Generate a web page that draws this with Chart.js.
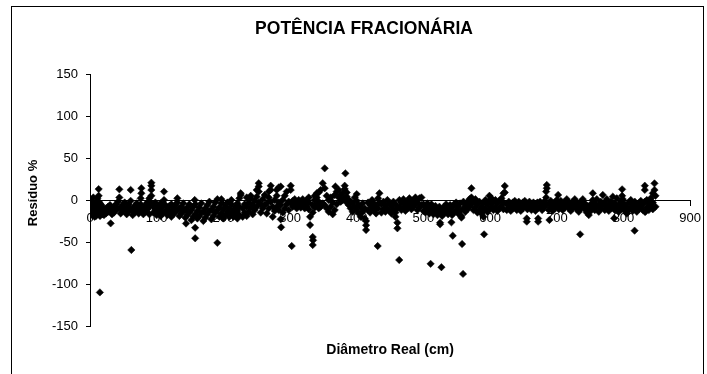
<!DOCTYPE html>
<html>
<head>
<meta charset="utf-8">
<script src="https://cdn.jsdelivr.net/npm/chart.js@4/dist/chart.umd.min.js"></script>
<style>
  html, body { margin: 0; padding: 0; background: #fff; }
  #wrap { width: 707px; height: 374px; position: relative; }
</style>
</head>
<body>
<div id="wrap"><canvas id="c" width="707" height="374"></canvas></div>
<script>
// ---- data ----
const titulo = 'POTÊNCIA FRACIONÁRIA';
const tituloX = 'Diâmetro Real (cm)';
const tituloY = 'Resíduo %';
const ticksX = [0, 100, 200, 300, 400, 500, 600, 700, 800, 900];
const ticksY = [-150, -100, -50, 0, 50, 100, 150];

// main band: [diâmetro, [resíduos...]]
const faixa0a220 = [
  [1,[1,-6,-14]],[3,[-2,-10,-18]],[5,[3,-5,-13]],[7,[-8,-16,-20]],[9,[-3,-12,-19]],
  [11,[2,-7,-15]],[13,[13,5,-2,-11]],[15,[-4,-13,-19]],[17,[-6,-15]],[19,[-9,-17]],
  [21,[-18,-12]],[24,[-16,-10]],[27,[-14,-8]],[30,[-12,-6]],[33,[-17,-11]],
  [36,[-15,-8]],[39,[-12,-5]],[42,[-10,-2]],[44,[12.7,3]],[46,[-16,-9]],
  [49,[-13,-6]],[52,[-11,-3]],[55,[-17,-9]],[58,[-14,-5]],[61,[-10,-1,12]],
  [64,[-18,-12]],[67,[-15,-7]],[70,[-12,-4]],[73,[-16,-9]],[76,[-12,-5,2]],
  [77,[14,8]],[80,[-17,-10]],[83,[-14,-6]],[86,[-11,-3]],[89,[-17,-8,2]],
  [92,[20.6,17,12,5,-4]],[95,[-15,-8]],[98,[-12,-3]],[100,[-18,-9]],[103,[-15,-7]],
  [106,[-19,-12,-4]],[109,[-16,-8]],[111,[10,0]],[113,[-14,-6]],[116,[-18,-11]],
  [119,[-15,-7]],[122,[-20,-13,-5]],[125,[-17,-9]],[128,[-14,-6]],[131,[-12,-3,2]],
  [134,[-19,-10]],[137,[-16,-8]],[140,[-13,-4]],[143,[-21,-12]],[146,[-18,-9]],
  [149,[-15,-5]],[152,[-24,-12]],[155,[-20,-8]],[157,[0]],[158,[-17,-5]],
  [161,[-22,-13]],[164,[-19,-9]],[167,[-15,-4]],[170,[-25,-14]],[173,[-21,-10]],
  [176,[-17,-6]],[179,[-13,-2]],[182,[-23,-12]],[185,[-19,-8]],[188,[-15,-3]],
  [191,[-12,1]],[194,[-20,-9]],[197,[-16,-4,1]],[200,[-22,-11]],[203,[-18,-7]],
  [206,[-14,-3]],[209,[-20,-10]],[212,[-16,-5,0]],[215,[-20,-12]],[218,[-17,-8]]
];
const faixa220a450 = [
  [221,[-22,-13,-4]],[224,[-18,-8,2]],[226,[8,6]],[229,[-20,-10]],[232,[-15,-5]],
  [235,[-19,-8,3]],[238,[-14,-3]],[241,[5,2,-9]],[244,[-17,-6]],[247,[-12,-1]],
  [250,[-8,4,12]],[253,[20,16,10,-3]],[256,[-15,-5]],[259,[-10,1]],[262,[-6,6]],
  [265,[-16,-4]],[268,[-10,3,10]],[271,[17,12,-2]],[274,[-20,-8]],[277,[-13,0]],
  [280,[-8,5,12]],[283,[15,-3,-12]],[286,[16,-23,-6]],[289,[-15,0]],[292,[-10,5]],
  [295,[-5,10]],[298,[-2,-12]],[301,[17,12,-4]],[304,[-8,-1]],[307,[-6,1]],
  [310,[-10,-3]],[313,[-7,0]],[316,[-9,-2]],[319,[-5,1]],[322,[-10,-4]],
  [325,[-8,0]],[328,[-11,-3,3]],[330,[-20]],[334,[-15,-6]],[337,[-9,0,5]],
  [340,[-5,3,8]],[343,[-10,-2,9]],[346,[-8,12]],[349,[-4,20]],[352,[14,-6]],
  [355,[-10,5]],[358,[-14,0]],[361,[-8,3]],[364,[-17,-3]],[367,[-12,6]],
  [368,[16]],[370,[-5,10]],[373,[3,12]],[376,[-2,6]],[379,[0,8]],
  [382,[2,13,17]],[385,[-3,4,9]],[388,[-6,0]],[391,[-10,-2]],[394,[-14,-4]],
  [397,[-8,3]],[400,[-12,7,-1]],[403,[-16,-6]],[406,[-20,-9]],[409,[-14,-4]],
  [412,[-22,-10]],[414,[-30,-25]],[417,[-12,-3]],[420,[-15,-6]],[423,[-9,0]],
  [426,[-12,-4]],[429,[-16,-7]],[432,[-10,2]],[434,[8,-3]],[437,[-15,-5]],
  [440,[-11,-2]],[443,[-14,-6]],[446,[-10,0]],[449,[-13,-4]]
];
const faixa450a700 = [
  [452,[-16,-7]],[455,[-11,-2]],[458,[-15,-5,-20]],[461,[-27,-10]],[464,[-8,0]],
  [467,[-12,-3]],[470,[-9,1]],[473,[-13,-5]],[476,[-10,-2]],[479,[-7,2]],
  [482,[-11,-4]],[485,[-8,0]],[488,[-5,3]],[491,[-12,-3]],[494,[-9,2]],
  [497,[-6,3]],[500,[-13,-5]],[503,[-15,-8]],[506,[-11,-4]],[509,[-16,-9]],
  [512,[-13,-5]],[515,[-17,-10]],[518,[-14,-7]],[521,[-18,-11]],[524,[-15,-8]],
  [525,[-27,-29]],[528,[-19,-12]],[531,[-16,-8]],[534,[-13,-5]],[537,[-17,-10]],
  [540,[-14,-6]],[542,[-26.6]],[543,[-18,-9]],[546,[-15,-5]],[549,[-12,-3]],
  [552,[-16,-8]],[555,[-13,-4]],[557,[-21,-19]],[560,[-10,-2]],[563,[-14,-6]],
  [566,[-11,-3]],[569,[-8,1]],[572,[14,-5,3]],[575,[-12,-2]],[578,[-9,1]],
  [581,[-15,-5]],[584,[-12,-2]],[587,[-16,-8]],[590,[-13,-4,-20]],[593,[-10,0]],
  [596,[-14,-5]],[599,[-11,-1,5]],[602,[-8,2]],[605,[-12,-3]],[608,[-9,0]],
  [611,[-13,-4]],[614,[-10,-1]],[617,[-7,2]],[620,[-11,-3,8]],[622,[16.7,9]],
  [625,[-12,-5]],[628,[-9,-2]],[631,[-13,-6]],[634,[-10,-3]],[637,[-8,-1]],
  [640,[-12,-5]],[643,[-9,-2]],[646,[-13,-6]],[649,[-10,-3]],[652,[-7,-1]],
  [655,[-25.8,-22]],[656,[-11,-5]],[659,[-8,-2]],[662,[-12,-6]],[665,[-9,-3]],
  [668,[-13,-6]],[671,[-10,-3]],[672,[-25.8,-22]],[675,[-8,-2]],[678,[-12,-5]],
  [681,[-9,-2]],[684,[-6,3,10]],[685,[17.9,14]],[688,[-12,-4]],[689,[-23.8]],
  [691,[-9,-1]],[694,[-13,-6]],[697,[-10,-3]],[700,[-7,0]]
];
const faixa700a850 = [
  [702,[6]],[703,[-11,-4]],[706,[-8,-1]],[709,[-12,-5]],[712,[-9,-2]],
  [715,[-6,1]],[718,[-10,-3]],[721,[-13,-6]],[724,[-9,-2]],[727,[-6,1]],
  [730,[-11,-4]],[733,[-14,-7]],[736,[-10,-2]],[739,[-7,1]],[742,[-11,-4]],
  [745,[-15,-7]],[748,[-18,-10]],[751,[-13,-5]],[754,[-9,8,0]],[757,[-12,-4]],
  [760,[-8,1]],[763,[-14,-6]],[766,[-10,-2]],[769,[-6,6]],[772,[-12,-4]],
  [775,[-9,1]],[778,[-13,-5]],[781,[-10,-2]],[784,[-7,4]],[787,[-12,-4]],
  [790,[-9,2]],[793,[-14,-6]],[796,[-11,-2]],[798,[12.7,5]],[799,[-8,1]],
  [802,[-13,-5]],[805,[-16,-8]],[808,[-12,-3]],[811,[-9,0]],[814,[-13,-6]],
  [817,[-10,-2]],[820,[-14,-7]],[823,[-11,-4]],[826,[-8,-1]],[829,[-12,-5]],
  [832,[17,12,-14,-2]],[835,[-9,0]],[838,[-12,-4]],[841,[-8,2]],[844,[-11,-3,8]],
  [846.5,[19.8,12]],[848,[-8,5]]
];
// isolated points: [diâmetro, resíduo]
const extremos = [
  [14.8,-110],[31,-27.8],[62,-59.5],[144,-28],[157.7,-45.6],[157.7,-33],[191,-51],
  [286.6,-32.5],[302.5,-54.8],[330,-29.8],[334,-44],[334.5,-48],[334,-53.6],
  [352,37.7],[383,31.7],[414,-35.7],[431.4,-54.8],[461,-33.7],[463.7,-71.4],
  [510.8,-76],[527,-80],[544,-42.5],[558,-52.4],[559.4,-88],[591,-40.9],
  [735,-40.9],[786,-21.8],[816.7,-36.5],[833,-14]
];

const pontos = [];
[faixa0a220, faixa220a450, faixa450a700, faixa700a850].forEach(f =>
  f.forEach(([x, ys]) => ys.forEach(y => pontos.push({x, y}))));
extremos.forEach(([x, y]) => pontos.push({x, y}));

const FONT = 'Arial, "Liberation Sans", sans-serif';

const textos = {
  id: 'textos',
  beforeDraw(chart) {
    const ctx = chart.ctx;
    ctx.save();
    ctx.strokeStyle = '#000';
    ctx.lineWidth = 1;
    ctx.strokeRect(11.5, 6.5, 692, 400);
    ctx.restore();
  },
  afterDraw(chart) {
    const ctx = chart.ctx;
    const a = chart.chartArea;
    ctx.save();
    ctx.fillStyle = '#000';
    ctx.textAlign = 'center';
    ctx.textBaseline = 'middle';
    ctx.font = 'bold 17.5px ' + FONT;
    ctx.fillText(titulo, 364, 29);
    ctx.font = 'bold 14px ' + FONT;
    ctx.fillText(tituloX, (a.left + a.right) / 2, 350);
    ctx.font = 'bold 13px ' + FONT;
    ctx.translate(33, 193);
    ctx.rotate(-Math.PI / 2);
    ctx.fillText(tituloY, 0, 0);
    ctx.restore();
  }
};

new Chart(document.getElementById('c'), {
  type: 'scatter',
  data: {
    datasets: [{
      data: pontos,
      pointStyle: 'rectRot',
      pointRadius: 3.7,
      pointBorderWidth: 0.5,
      backgroundColor: '#000',
      borderColor: '#000'
    }]
  },
  options: {
    responsive: false,
    animation: false,
    devicePixelRatio: 1,
    layout: { padding: { left: 0, right: 12, top: 74, bottom: 48 } },
    plugins: { legend: { display: false }, tooltip: { enabled: false }, title: { display: false } },
    scales: {
      x: {
        type: 'linear',
        position: { y: 0 },
        min: 0, max: 900,
        afterBuildTicks: s => { s.ticks = ticksX.map(v => ({ value: v })); },
        grid: { drawOnChartArea: false, drawTicks: true, tickLength: 5, color: '#000' },
        border: { color: '#000', width: 1 },
        ticks: { color: '#000', font: { family: FONT, size: 13 }, padding: 6, maxRotation: 0 }
      },
      y: {
        type: 'linear',
        position: 'left',
        min: -150, max: 150,
        afterBuildTicks: s => { s.ticks = ticksY.map(v => ({ value: v })); },
        afterFit: s => { s.width = 90; },
        grid: { drawOnChartArea: false, drawTicks: true, tickLength: 4, color: '#000' },
        border: { color: '#000', width: 1 },
        ticks: { color: '#000', font: { family: FONT, size: 13 }, padding: 8 }
      }
    }
  },
  plugins: [textos]
});
</script>
</body>
</html>
